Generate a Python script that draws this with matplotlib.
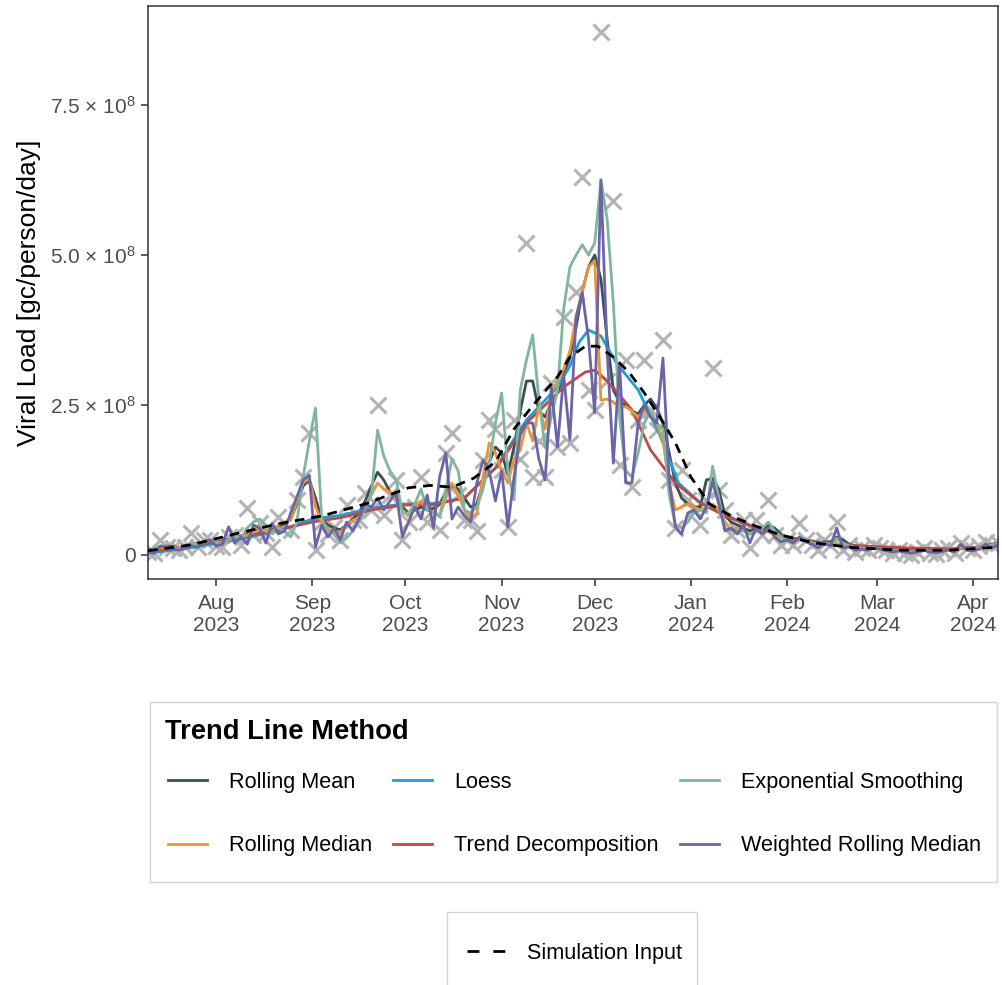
import matplotlib
matplotlib.use("Agg")
import matplotlib.pyplot as plt
import matplotlib.dates as mdates
from matplotlib.lines import Line2D
from matplotlib.patches import Rectangle
import numpy as np
import pandas as pd

plt.rcParams["font.family"] = ["Liberation Sans", "DejaVu Sans"]
plt.rcParams["mathtext.fontset"] = "custom"
plt.rcParams["mathtext.rm"] = "Liberation Sans"
plt.rcParams["mathtext.default"] = "regular"

# sampling days (every other day), values in 1e8 gc/person/day
sample_dates = pd.date_range("2023-07-10", "2024-04-09", freq="2D")

observed = [
    0.05, 0.03, 0.25, 0.13, 0.12, 0.08, 0.13, 0.37, 0.13, 0.25,
    0.25, 0.15, 0.13, 0.30, 0.33, 0.17, 0.78, 0.33, 0.53, 0.37,
    0.13, 0.63, 0.53, 0.42, 0.92, 1.30, 2.03, 0.08, 0.55, 0.35,
    0.47, 0.25, 0.83, 0.58, 0.58, 1.03, 0.75, 2.50, 0.67, 1.00,
    1.25, 0.25, 0.55, 0.80, 1.30, 0.55, 0.75, 0.42, 1.70, 2.03,
    1.00, 0.58, 0.58, 0.40, 1.58, 2.25, 2.10, 1.42, 0.47, 2.25,
    1.60, 5.20, 1.30, 1.90, 1.30, 2.87, 1.80, 3.97, 1.87, 4.38,
    6.30, 2.75, 2.42, 8.72, 2.90, 5.90, 1.50, 3.25, 1.13, 2.25,
    3.25, 2.42, 2.08, 3.58, 1.25, 0.45, 1.42, 0.92, 0.75, 0.50,
    0.92, 3.12, 1.08, 0.75, 0.33, 0.42, 0.58, 0.12, 0.58, 0.33,
    0.92, 0.33, 0.17, 0.25, 0.17, 0.53, 0.25, 0.17, 0.08, 0.25,
    0.17, 0.55, 0.08, 0.17, 0.05, 0.12, 0.08, 0.17, 0.12, 0.08,
    0.03, 0.08, 0.03, 0.00, 0.05, 0.12, 0.03, 0.02, 0.08, 0.12,
    0.03, 0.20, 0.12, 0.08, 0.15, 0.22, 0.17, 0.20,
]

rolling_mean = [
    0.08, 0.10, 0.12, 0.15, 0.14, 0.12, 0.15, 0.18, 0.20, 0.22,
    0.24, 0.22, 0.22, 0.25, 0.28, 0.32, 0.35, 0.40, 0.42, 0.38,
    0.42, 0.48, 0.52, 0.60, 0.85, 1.15, 1.25, 0.95, 0.60, 0.50,
    0.45, 0.42, 0.50, 0.60, 0.70, 0.90, 1.15, 1.38, 1.25, 1.05,
    0.95, 0.80, 0.70, 0.75, 0.80, 0.75, 0.78, 0.85, 1.05, 1.15,
    1.10, 0.95, 0.80, 0.85, 1.20, 1.55, 1.80, 1.70, 1.35, 1.80,
    2.40, 2.90, 2.90, 2.40, 2.30, 2.55, 2.70, 3.00, 3.30, 3.80,
    4.40, 4.80, 5.00, 4.60, 3.60, 2.75, 2.55, 2.50, 2.40, 2.35,
    2.50, 2.60, 2.45, 2.20, 1.70, 1.20, 0.95, 0.85, 0.80, 0.80,
    1.25, 1.28, 1.10, 0.65, 0.55, 0.50, 0.45, 0.40, 0.45, 0.42,
    0.50, 0.45, 0.35, 0.28, 0.25, 0.28, 0.25, 0.22, 0.20, 0.22,
    0.22, 0.30, 0.25, 0.18, 0.15, 0.13, 0.12, 0.12, 0.11, 0.10,
    0.09, 0.08, 0.08, 0.07, 0.07, 0.08, 0.08, 0.07, 0.08, 0.09,
    0.10, 0.12, 0.12, 0.12, 0.13, 0.16, 0.18, 0.19,
]

rolling_median = [
    0.06, 0.08, 0.12, 0.13, 0.12, 0.12, 0.13, 0.14, 0.18, 0.22,
    0.24, 0.20, 0.18, 0.25, 0.30, 0.30, 0.33, 0.38, 0.42, 0.40,
    0.38, 0.50, 0.55, 0.58, 0.90, 1.20, 1.28, 0.80, 0.55, 0.45,
    0.40, 0.38, 0.50, 0.58, 0.62, 0.80, 1.00, 1.20, 1.10, 1.05,
    0.90, 0.75, 0.65, 0.80, 0.90, 0.75, 0.72, 0.65, 0.95, 1.20,
    1.00, 0.75, 0.60, 0.70, 1.30, 1.87, 1.70, 1.40, 1.20, 1.60,
    1.75, 2.20, 1.90, 2.47, 2.10, 2.70, 2.90, 3.10, 3.40, 3.97,
    4.40, 4.80, 4.90, 2.58, 2.60, 2.55, 2.45, 2.47, 2.40, 2.30,
    2.42, 2.30, 2.20, 1.90, 1.20, 0.75, 0.80, 0.85, 0.80, 0.75,
    0.80, 0.85, 0.75, 0.55, 0.42, 0.45, 0.40, 0.35, 0.40, 0.38,
    0.40, 0.35, 0.30, 0.25, 0.22, 0.25, 0.22, 0.20, 0.17, 0.20,
    0.18, 0.20, 0.15, 0.15, 0.12, 0.12, 0.10, 0.12, 0.10, 0.08,
    0.07, 0.08, 0.06, 0.05, 0.06, 0.08, 0.06, 0.06, 0.07, 0.09,
    0.08, 0.12, 0.11, 0.10, 0.13, 0.17, 0.17, 0.18,
]

exp_smoothing = [
    0.06, 0.10, 0.15, 0.14, 0.12, 0.10, 0.13, 0.20, 0.18, 0.22,
    0.25, 0.22, 0.20, 0.25, 0.30, 0.28, 0.45, 0.55, 0.60, 0.50,
    0.35, 0.45, 0.40, 0.30, 0.55, 1.30, 1.90, 2.45, 0.60, 0.40,
    0.35, 0.20, 0.28, 0.40, 0.55, 0.80, 1.00, 2.08, 1.65, 1.40,
    1.25, 0.70, 0.70, 0.85, 1.10, 0.75, 0.70, 0.65, 1.10, 1.60,
    1.40, 0.75, 0.70, 0.80, 1.10, 1.53, 2.20, 2.70, 1.40, 0.92,
    2.75, 3.25, 3.67, 2.60, 1.80, 2.30, 2.75, 4.10, 4.80, 5.00,
    5.17, 5.00, 5.20, 6.25, 5.60, 4.20, 2.30, 1.40, 1.30, 1.70,
    2.20, 2.40, 2.20, 2.10, 1.00, 0.50, 0.45, 0.55, 0.70, 0.75,
    0.70, 1.48, 0.95, 0.45, 0.40, 0.42, 0.40, 0.35, 0.38, 0.45,
    0.55, 0.40, 0.30, 0.25, 0.20, 0.30, 0.25, 0.20, 0.15, 0.18,
    0.18, 0.28, 0.20, 0.15, 0.12, 0.10, 0.10, 0.12, 0.10, 0.08,
    0.06, 0.07, 0.06, 0.05, 0.05, 0.08, 0.06, 0.05, 0.06, 0.08,
    0.07, 0.15, 0.10, 0.08, 0.12, 0.15, 0.15, 0.17,
]

weighted_median = [
    0.05, 0.03, 0.15, 0.13, 0.10, 0.08, 0.12, 0.15, 0.13, 0.22,
    0.25, 0.15, 0.18, 0.47, 0.20, 0.30, 0.18, 0.50, 0.45, 0.20,
    0.53, 0.35, 0.40, 0.70, 0.97, 1.25, 1.33, 0.13, 0.50, 0.30,
    0.45, 0.25, 0.55, 0.40, 0.60, 0.85, 0.80, 0.95, 0.75, 0.90,
    1.05, 0.30, 0.55, 0.80, 0.60, 1.00, 0.45, 1.30, 1.70, 0.60,
    0.80, 0.65, 0.55, 1.20, 1.58, 1.40, 0.90, 1.40, 0.47, 1.30,
    2.00, 2.20, 2.20, 1.60, 1.25, 2.80, 1.80, 3.00, 1.92, 3.97,
    4.37, 3.60, 2.37, 6.25, 3.40, 1.53, 3.20, 1.20, 1.20, 2.20,
    2.50, 2.30, 2.20, 3.28, 1.25, 0.47, 0.35, 0.70, 0.75, 0.60,
    0.80, 1.22, 0.85, 0.40, 0.45, 0.35, 0.50, 0.20, 0.45, 0.35,
    0.45, 0.30, 0.22, 0.25, 0.20, 0.30, 0.22, 0.18, 0.12, 0.20,
    0.15, 0.45, 0.12, 0.14, 0.08, 0.10, 0.08, 0.12, 0.10, 0.07,
    0.05, 0.07, 0.05, 0.03, 0.05, 0.08, 0.05, 0.04, 0.06, 0.09,
    0.05, 0.18, 0.08, 0.07, 0.10, 0.18, 0.12, 0.17,
]

loess_dates = pd.to_datetime([
    "2023-07-10", "2023-07-24", "2023-08-07", "2023-08-21", "2023-09-01",
    "2023-09-10", "2023-09-20", "2023-09-30", "2023-10-10", "2023-10-20",
    "2023-10-30", "2023-11-09", "2023-11-19", "2023-11-23", "2023-11-26",
    "2023-11-29", "2023-12-03", "2023-12-08", "2023-12-15", "2023-12-22",
    "2023-12-28", "2024-01-04", "2024-01-10", "2024-01-17", "2024-01-25",
    "2024-02-03", "2024-02-14", "2024-02-25", "2024-03-10", "2024-03-25",
    "2024-04-09",
])
loess = [
    0.03, 0.12, 0.25, 0.40, 0.60,
    0.66, 0.78, 0.85, 0.86, 0.95,
    1.45, 2.25, 2.80, 3.15, 3.55,
    3.75, 3.65, 3.20, 2.75, 2.00,
    1.20, 0.87, 0.72, 0.55, 0.40,
    0.28, 0.20, 0.15, 0.10, 0.10,
    0.15,
]

trend_dates = pd.to_datetime([
    "2023-07-10", "2023-07-24", "2023-08-07", "2023-08-21", "2023-09-01",
    "2023-09-10", "2023-09-20", "2023-09-30", "2023-10-10", "2023-10-20",
    "2023-10-31", "2023-11-09", "2023-11-21", "2023-11-28", "2023-12-01",
    "2023-12-05", "2023-12-13", "2023-12-19", "2023-12-27", "2024-01-04",
    "2024-01-12", "2024-01-22", "2024-02-01", "2024-02-12", "2024-02-25",
    "2024-03-10", "2024-03-25", "2024-04-09",
])
trend_decomp = [
    0.05, 0.15, 0.28, 0.42, 0.55,
    0.62, 0.75, 0.83, 0.84, 0.95,
    1.50, 2.20, 2.80, 3.05, 3.08,
    2.90, 2.42, 1.75, 1.20, 0.87,
    0.65, 0.45, 0.30, 0.20, 0.15,
    0.12, 0.10, 0.15,
]

sim_dates = pd.to_datetime([
    "2023-07-10", "2023-07-24", "2023-08-07", "2023-08-21", "2023-09-04",
    "2023-09-18", "2023-10-02", "2023-10-09", "2023-10-16", "2023-10-23",
    "2023-10-30", "2023-11-05", "2023-11-12", "2023-11-19", "2023-11-23",
    "2023-11-28", "2023-12-02", "2023-12-07", "2023-12-12", "2023-12-17",
    "2023-12-22", "2023-12-27", "2024-01-01", "2024-01-07", "2024-01-14",
    "2024-01-21", "2024-01-30", "2024-02-10", "2024-02-21", "2024-03-08",
    "2024-03-24", "2024-04-09",
])
sim_input = [
    0.07, 0.17, 0.35, 0.52, 0.65,
    0.85, 1.12, 1.16, 1.13, 1.28,
    1.55, 2.10, 2.55, 2.97, 3.30,
    3.48, 3.48, 3.30, 3.05, 2.70,
    2.30, 1.87, 1.30, 0.85, 0.65,
    0.50, 0.33, 0.20, 0.13, 0.08,
    0.08, 0.13,
]

methods = ["Rolling Mean", "Rolling Median", "Loess", "Trend Decomposition",
           "Exponential Smoothing", "Weighted Rolling Median"]
colors = {
    "Rolling Mean": "#3b4f55",
    "Rolling Median": "#ea9539",
    "Loess": "#1a9fd8",
    "Trend Decomposition": "#bf4a47",
    "Exponential Smoothing": "#7fb69d",
    "Weighted Rolling Median": "#6b64a6",
}
series = {
    "Rolling Mean": (sample_dates, rolling_mean),
    "Rolling Median": (sample_dates, rolling_median),
    "Loess": (loess_dates, loess),
    "Trend Decomposition": (trend_dates, trend_decomp),
    "Exponential Smoothing": (sample_dates, exp_smoothing),
    "Weighted Rolling Median": (sample_dates, weighted_median),
}
scale = 1e8
W, H = 1003, 985


def fx(px):
    return px / W


def fy(py):
    return 1 - py / H


fig = plt.figure(figsize=(W / 100, H / 100), dpi=100)
ax = fig.add_axes([fx(148), fy(579), fx(850), 573 / H])

ax.plot(sample_dates, np.array(observed) * scale, linestyle="none", marker="x",
        markersize=11, markeredgewidth=2.2, color="#b3b3b3", zorder=1)

draw_order = ["Rolling Mean", "Loess", "Trend Decomposition", "Rolling Median",
              "Exponential Smoothing", "Weighted Rolling Median"]
for name in draw_order:
    d, v = series[name]
    ax.plot(d, np.array(v) * scale, color=colors[name], lw=2.0, zorder=2)

ax.plot(sim_dates, np.array(sim_input) * scale, color="black", lw=2.0,
        linestyle=(0, (3.5, 2.5)), zorder=3)

# axes styling
ax.set_xlim(pd.Timestamp("2023-07-10"), pd.Timestamp("2024-04-09"))
ax.set_ylim(-0.4e8, 9.15e8)
ax.set_yticks([0, 2.5e8, 5e8, 7.5e8])
ax.set_yticklabels(["0", "2.5 × 10$^{8}$", "5.0 × 10$^{8}$", "7.5 × 10$^{8}$"])
ax.xaxis.set_major_locator(mdates.MonthLocator())
ax.xaxis.set_major_formatter(mdates.DateFormatter("%b\n%Y"))
for s in ax.spines.values():
    s.set_color("#333333")
    s.set_linewidth(1.1)
ax.tick_params(length=5, width=1.1, color="#333333", labelsize=15,
               labelcolor="#4d4d4d")
ax.tick_params(axis="x", pad=6)
ax.tick_params(axis="y", pad=4)
ax.set_ylabel("Viral Load [gc/person/day]", fontsize=19, color="black", labelpad=6)

# legend for the trend methods: box, title, entries
fig.add_artist(Rectangle((fx(150), fy(882)), fx(847), 180 / H, transform=fig.transFigure,
                         facecolor="white", edgecolor="#d4d4d4", lw=1.0, zorder=0))
fig.text(fx(165), fy(732), "Trend Line Method", fontsize=19.7, weight="bold",
         ha="left", va="center")
handles = [Line2D([], [], color=colors[m], lw=2.0) for m in methods]
fig.legend(handles, methods, loc="upper left",
           bbox_to_anchor=(fx(168), fy(772), fx(813), 0),
           mode="expand", ncol=3, borderaxespad=0, borderpad=0,
           fontsize=15.6, frameon=False, handlelength=1.8,
           handletextpad=1.0, labelspacing=1.95)

# legend for the simulated input curve
fig.add_artist(Rectangle((fx(447), fy(992)), fx(250), 80 / H, transform=fig.transFigure,
                         facecolor="white", edgecolor="#d4d4d4", lw=1.0, zorder=0))
sim_handle = [Line2D([], [], color="black", lw=2.0, linestyle=(0, (4.3, 5.0)))]
fig.legend(sim_handle, ["Simulation Input"], loc="center left",
           bbox_to_anchor=(fx(467), fy(953)), borderaxespad=0, borderpad=0,
           fontsize=15.6, frameon=False, handlelength=1.75, handletextpad=1.0)

fig.savefig("out.png", dpi=100)
